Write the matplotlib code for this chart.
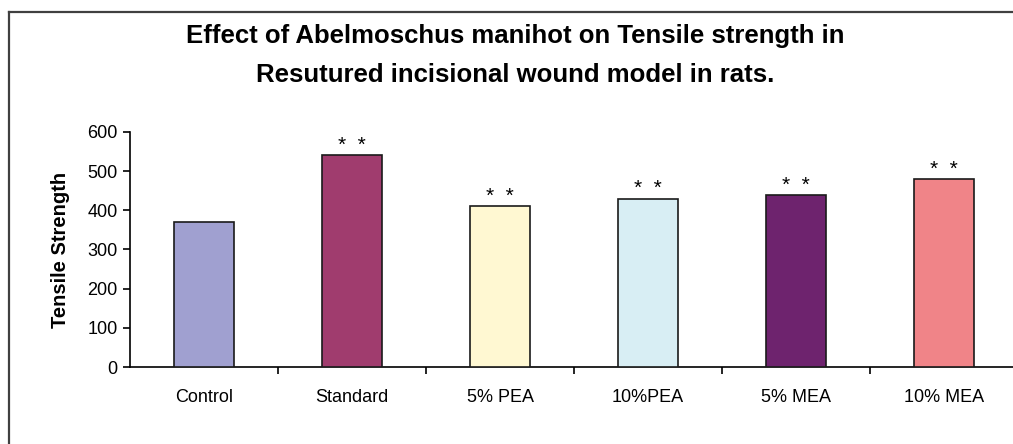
import matplotlib
matplotlib.use("Agg")
import matplotlib.pyplot as plt
from matplotlib.lines import Line2D

categories = ["Control", "Standard", "5% PEA", "10%PEA", "5% MEA", "10% MEA"]
values = [370, 540, 411, 430, 438, 480]
markers = ["", "*  *", "*  *", "*  *", "*  *", "*  *"]
colors = ["#A0A0D0", "#A03C6E", "#FFF8D2", "#D8EEF4", "#6E236E", "#F08488"]
yticks = [0, 100, 200, 300, 400, 500, 600]

plt.rcParams['font.family'] = ['Liberation Sans', 'DejaVu Sans']

W, H = 1013, 444
fig = plt.figure(figsize=(W/100, H/100), dpi=100)
fig.patch.set_facecolor("white")

# outer border (top and left visible)
fig.add_artist(Line2D([8.5/W, 1.0], [1-12.5/H, 1-12.5/H], color="#404040", lw=1.6, transform=fig.transFigure))
fig.add_artist(Line2D([8.5/W, 8.5/W], [0, 1-12.5/H], color="#404040", lw=1.6, transform=fig.transFigure))

ax = fig.add_axes([130/W, 1-367/H, 888/W, 235/H])
x = list(range(len(categories)))
ax.bar(x, values, width=0.41, color=colors, edgecolor="#1a1a1a", linewidth=1.2, zorder=3)

for xi, v, m in zip(x, values, markers):
    if m:
        ax.annotate(m, (xi, v), xytext=(0, 3), textcoords="offset points",
                    ha="center", va="baseline", fontsize=15)

ax.set_xlim(-0.5, len(categories) - 0.5)
ax.set_ylim(0, 600)
ax.set_yticks(yticks)
ax.set_yticklabels([str(t) for t in yticks], fontsize=13)
ax.set_xticks(x)
ax.set_xticklabels(categories, fontsize=13)
ax.tick_params(axis="x", which="major", length=0, pad=16)
ax.set_xticks([i + 0.5 for i in x[:-1]], minor=True)
ax.tick_params(axis="x", which="minor", length=5, width=1.2, color="black")
ax.tick_params(axis="y", length=5, width=1.2, pad=4)

for s in ["top", "right"]:
    ax.spines[s].set_visible(False)
for s in ["left", "bottom"]:
    ax.spines[s].set_linewidth(1.2)

ax.set_ylabel("Tensile Strength", fontsize=14.5, fontweight="bold", labelpad=12)

fig.text(515/W, 1-36/H, "Effect of Abelmoschus manihot on Tensile strength in",
         ha="center", va="center", fontsize=18.5, fontweight="bold")
fig.text(515/W, 1-75/H, "Resutured incisional wound model in rats.",
         ha="center", va="center", fontsize=18.5, fontweight="bold")

fig.savefig("out.png", dpi=100)
